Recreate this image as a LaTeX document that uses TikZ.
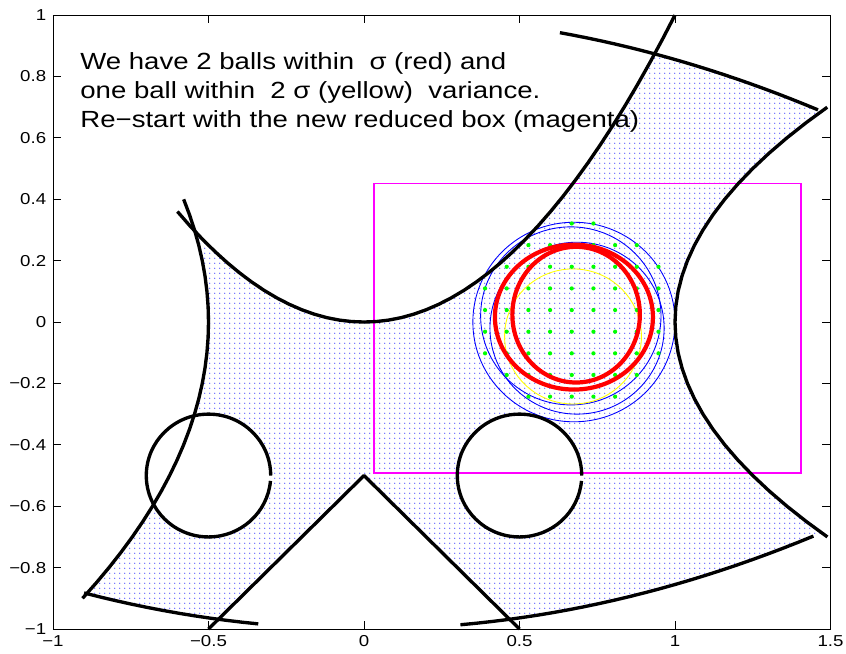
\documentclass[tikz,border=0pt]{standalone}
\usepackage{fontspec}
\setmainfont[FakeStretch=1.18]{Liberation Sans}
\usetikzlibrary{patterns.meta}
\definecolor{dotblue}{HTML}{4848FF}
\definecolor{boxmag}{HTML}{FF00FF}
\definecolor{ballred}{HTML}{FF0000}
\definecolor{ballyellow}{HTML}{FFFF00}
\definecolor{ballblue}{HTML}{0000FF}
\definecolor{ballgreen}{HTML}{00FF00}
\tikzdeclarepattern{
  name=feasdots,
  type=uncolored,
  bottom left={(-0.5pt,-0.5pt)},
  top right={(2.35pt,2.35pt)},
  tile size={(2.85pt,2.85pt)},
  code={\pgfpathcircle{\pgfpointorigin}{0.4pt}\pgfusepath{fill}}
}

\begin{document}
\begin{tikzpicture}[x=6.22cm,y=6.14cm,
    bound/.style={line width=1.9pt,line join=round},
    sigma/.style={line width=2.4pt,draw=ballred},
    probe/.style={line width=0.5pt,draw=ballblue},
    axis/.style={line width=0.5pt},
    ticklab/.style={inner sep=0pt,font=\fontsize{9}{10.8}\selectfont},
    note/.style={align=left,inner sep=0pt,font=\fontsize{13.3}{16.5}\selectfont}]
  \useasboundingbox (-1.1704,-1.0782) rectangle (1.5498,1.0489);

  % feasible set, dotted
  \begin{scope}[even odd rule]
    \clip plot[domain=-1.2:1.3,samples=60] (\x,{\x*\x}) -- (1.6,1.69) -- (1.6,-1.2) -- (-1.2,-1.2) -- cycle;
    \clip plot[domain=-1.2:1.6,samples=40] (\x,{1-0.145*\x*\x}) -- (1.6,-1.2) -- (-1.2,-1.2) -- cycle;
    \clip plot[domain=-1.2:1.6,samples=40] (\x,{-1+0.145*\x*\x}) -- (1.6,1.2) -- (-1.2,1.2) -- cycle;
    \clip plot[domain=-1.2:1.2,samples=40] ({-0.5-0.5*\x*\x},\x) -- (1.6,1.2) -- (1.6,-1.2) -- cycle;
    \clip plot[domain=-1.2:1.2,samples=40] ({1+\x*\x},\x) -- (-1.2,1.2) -- (-1.2,-1.2) -- cycle;
    \clip (-1.2,-1.7) -- (0,-0.5) -- (1.6,-2.1) -- (1.6,1.2) -- (-1.2,1.2) -- cycle;
    \clip (-1.2,-1.2) rectangle (1.6,1.2) (-0.5,-0.5) circle[radius=0.2] (0.5,-0.5) circle[radius=0.2];
    \fill[pattern=feasdots,pattern color=dotblue] (-1,-1) rectangle (1.5,1);
  \end{scope}

  % reduced box
  \draw[boxmag,line width=0.7pt] (0.032,-0.492) rectangle (1.405,0.452);

  % trial balls
  \draw[probe] (0.675,0.0) circle[radius=0.325];
  \draw[probe] (0.665,0.02) circle[radius=0.29];
  \draw[probe] (0.685,-0.02) circle[radius=0.28];
  \draw[ballyellow,line width=0.5pt] (0.672,-0.047) circle[radius=0.22];
  \foreach \j/\a/\b in {4/0/1,3/-2/3,2/-3/4,1/-4/4,0/-4/4,-1/-4/4,-2/-4/4,-3/-3/3,-4/-2/2}{
    \foreach \i in {\a,...,\b}{
      \fill[ballgreen] ({0.668+0.0697*\i},{0.039+0.0705*\j}) circle[radius=1.2pt];
    }
  }
  \draw[sigma] (0.675,0.016) ellipse[x radius=0.254,y radius=0.236];
  \draw[sigma] (0.682,0.024) ellipse[x radius=0.205,y radius=0.221];

  % constraints
  \draw[bound] plot[domain=-0.6:1,samples=41] (\x,{\x*\x});
  \draw[bound] plot[domain=-0.9:0.4,samples=27] ({-0.5-0.5*\x*\x},\x);
  \draw[bound] plot[domain=-0.7:0.7,samples=29] ({1+\x*\x},\x);
  \draw[bound] plot[domain=0.63:1.46,samples=20] (\x,{1-0.145*\x*\x});
  \draw[bound] plot[domain=-0.9:-0.34,samples=12] (\x,{-1+0.145*\x*\x});
  \draw[bound] plot[domain=0.31:1.445,samples=24] (\x,{-1+0.145*\x*\x});
  \draw[bound] (-0.5,-1) -- (0,-0.5) -- (0.5,-1);
  \draw[bound] (-0.3,-0.5) arc[start angle=0,end angle=355,radius=0.2];
  \draw[bound] (0.7,-0.5) arc[start angle=0,end angle=355,radius=0.2];

  % axes
  \draw[axis] (-1,-1) rectangle (1.5,1);
  \foreach \t/\lab [count=\k] in {-1/−1,-0.5/−0.5,0/0,0.5/0.5,1/1,1.5/1.5}{
    \draw[axis] (\t,-1) -- ++(0,0.026) (\t,1) -- ++(0,-0.026);
    \node[ticklab,anchor=north,yshift=-0.12cm] (xlab\k) at (\t,-1) {\lab};
  }
  \foreach \t/\lab [count=\k] in {-1/−1,-0.8/−0.8,-0.6/−0.6,-0.4/−0.4,-0.2/−0.2,0/0,0.2/0.2,0.4/0.4,0.6/0.6,0.8/0.8,1/1}{
    \draw[axis] (-1,\t) -- ++(0.026,0) (1.5,\t) -- ++(-0.026,0);
    \node[ticklab,anchor=east,xshift=-0.13cm] (ylab\k) at (-1,\t) {\lab};
  }

  \node[note,anchor=north west] (msg) at (-0.913,0.879) {We have 2 balls within\ \ σ (red) and\\one ball within\ \ 2 σ (yellow)\ \ variance.\\Re−start with the new reduced box (magenta)};
\end{tikzpicture}
\end{document}
